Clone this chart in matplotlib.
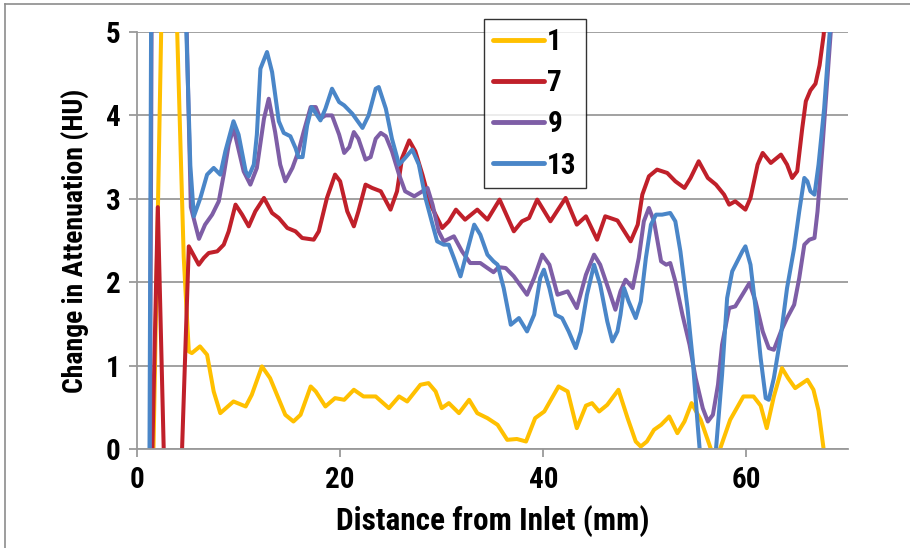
import matplotlib
matplotlib.use("Agg")
import matplotlib.pyplot as plt
from matplotlib import font_manager
from matplotlib.lines import Line2D

# ---------------- data ----------------
x1 = [1.5, 2.5, 3.6, 4.6, 5.1, 5.4, 6.2, 6.9, 7.55, 8.2,
      9.5, 10.7, 11.3, 12.3, 13.1, 14.6, 15.4, 16.1, 17.1, 17.6,
      18.55, 19.5, 20.4, 21.35, 22.3, 23.5, 24.8, 25.8, 26.6, 27.9,
      28.7, 29.4, 30.0, 30.7, 31.7, 32.7, 33.5, 34.5, 35.5, 36.45,
      37.4, 38.3, 39.2, 40.1, 41.5, 42.4, 43.3, 44.2, 44.8, 45.5,
      46.3, 47.4, 48.3, 49.1, 49.6, 50.2, 50.9, 51.6, 52.4, 53.2,
      53.9, 54.6, 55.5, 56.5, 57.0, 57.4, 58.4, 59.7, 60.7, 61.4,
      62.0, 62.7, 63.5, 64.1, 64.8, 66.0, 66.6, 67.1, 67.6, 67.8]
y1 = [-0.8, 5.8, 6.5, 2.3, 1.17, 1.15, 1.23, 1.13, 0.69, 0.43,
      0.57, 0.51, 0.65, 0.99, 0.85, 0.41, 0.33, 0.41, 0.75, 0.69,
      0.51, 0.61, 0.59, 0.71, 0.63, 0.63, 0.49, 0.63, 0.57, 0.77,
      0.79, 0.69, 0.49, 0.55, 0.43, 0.59, 0.43, 0.37, 0.29, 0.11,
      0.12, 0.09, 0.37, 0.45, 0.75, 0.69, 0.25, 0.52, 0.55, 0.45,
      0.53, 0.71, 0.37, 0.09, 0.03, 0.09, 0.23, 0.29, 0.39, 0.19,
      0.33, 0.55, 0.35, 0.0, -0.1, 0.0, 0.35, 0.63, 0.63, 0.52,
      0.25, 0.63, 0.97, 0.85, 0.73, 0.83, 0.71, 0.46, 0.0, -0.3]

x7 = [1.4, 2.05, 2.75, 3.5, 4.3, 5.1, 6.08, 6.57, 7.06, 7.9,
      8.54, 9.03, 9.7, 10.35, 11.0, 11.65, 12.5, 13.3, 13.96, 14.8,
      15.6, 16.26, 17.4, 17.9, 18.7, 19.5, 20.0, 20.7, 21.35, 21.8,
      22.5, 23.15, 24.0, 24.96, 25.6, 26.1, 26.8, 27.4, 28.1, 28.9,
      30.05, 30.7, 31.4, 32.3, 33.5, 34.5, 35.7, 37.1, 37.9, 38.6,
      39.4, 40.7, 42.2, 43.3, 44.2, 45.3, 46.1, 47.3, 48.6, 49.3,
      49.75, 50.4, 51.2, 52.2, 53.0, 53.9, 54.5, 55.3, 56.2, 57.0,
      57.8, 58.3, 58.9, 59.9, 60.4, 61.1, 61.6, 62.4, 63.4, 64.0,
      64.5, 65.0, 65.5, 65.85, 66.3, 66.8, 67.2, 67.6, 68.0]
y7 = [-0.6, 2.9, -0.6, -3.0, -0.5, 2.43, 2.21, 2.29, 2.35, 2.37,
      2.45, 2.61, 2.93, 2.81, 2.67, 2.85, 3.01, 2.83, 2.77, 2.65,
      2.61, 2.53, 2.51, 2.61, 3.01, 3.29, 3.21, 2.85, 2.67, 2.85,
      3.17, 3.13, 3.09, 2.87, 3.09, 3.49, 3.70, 3.57, 3.29, 2.93,
      2.65, 2.73, 2.87, 2.75, 2.87, 2.75, 2.99, 2.61, 2.73, 2.77,
      2.99, 2.73, 3.01, 2.69, 2.79, 2.51, 2.79, 2.74, 2.49, 2.69,
      3.05, 3.27, 3.35, 3.31, 3.21, 3.13, 3.25, 3.45, 3.25, 3.17,
      3.05, 2.93, 2.97, 2.87, 3.01, 3.41, 3.55, 3.43, 3.53, 3.41,
      3.25, 3.33, 3.85, 4.17, 4.30, 4.38, 4.60, 4.96, 5.6]

x9 = [1.25, 1.65, 4.55, 5.3, 6.1, 6.7, 7.4, 8.05, 8.54, 9.03,
      9.5, 10.5, 11.16, 11.8, 12.5, 12.97, 13.6, 14.1, 14.6, 15.3,
      15.9, 16.4, 17.1, 17.6, 18.06, 18.55, 19.2, 19.9, 20.4, 20.9,
      21.35, 21.8, 22.5, 23.0, 23.5, 24.0, 24.5, 25.1, 25.8, 26.4,
      27.3, 28.1, 28.6, 29.1, 29.7, 30.2, 31.2, 32.0, 32.8, 33.8,
      34.5, 35.1, 35.6, 36.3, 37.1, 38.4, 39.1, 39.9, 40.6, 41.4,
      42.4, 43.3, 44.2, 45.0, 45.6, 46.5, 47.1, 47.6, 48.1, 48.8,
      49.4, 49.9, 50.4, 50.9, 51.6, 52.1, 52.5, 53.0, 53.7, 54.4,
      55.0, 55.7, 56.2, 56.7, 57.2, 57.6, 58.3, 58.9, 59.6, 60.3,
      60.9, 61.6, 62.2, 62.7, 63.4, 64.0, 64.7, 65.2, 65.7, 66.2,
      66.7, 67.0, 67.5, 68.0, 68.3, 68.6]
y9 = [-1.0, 12.0, 6.8, 2.9, 2.52, 2.69, 2.81, 2.97, 3.29, 3.65,
      3.85, 3.33, 3.17, 3.37, 3.96, 4.20, 3.80, 3.41, 3.21, 3.37,
      3.57, 3.80, 4.10, 4.10, 3.96, 4.00, 4.00, 3.77, 3.55, 3.62,
      3.80, 3.72, 3.47, 3.50, 3.72, 3.79, 3.75, 3.57, 3.29, 3.09,
      3.03, 3.09, 3.13, 2.93, 2.61, 2.49, 2.55, 2.37, 2.23, 2.23,
      2.17, 2.12, 2.18, 2.17, 2.07, 1.85, 2.05, 2.33, 2.21, 1.85,
      1.89, 1.69, 2.09, 2.33, 2.21, 1.89, 1.67, 1.89, 2.03, 1.93,
      2.29, 2.73, 2.89, 2.73, 2.25, 2.21, 2.23, 2.01, 1.61, 1.25,
      0.85, 0.49, 0.33, 0.41, 0.77, 1.25, 1.69, 1.71, 1.85, 1.99,
      1.77, 1.41, 1.21, 1.19, 1.41, 1.57, 1.73, 2.05, 2.45, 2.51,
      2.53, 2.85, 3.65, 4.49, 5.0, 5.6]

x13 = [1.2, 1.6, 4.5, 5.25, 5.6, 6.24, 6.9, 7.55, 8.2, 8.7,
       9.5, 10.0, 10.7, 11.0, 11.5, 11.8, 12.15, 12.8, 13.3, 13.96,
       14.45, 15.1, 15.6, 15.9, 16.3, 16.75, 17.2, 18.06, 18.55, 19.2,
       19.9, 20.4, 21.2, 22.2, 22.8, 23.5, 23.8, 24.5, 25.1, 25.8,
       26.4, 27.1, 27.75, 28.4, 29.1, 29.55, 30.2, 30.7, 31.2, 31.85,
       32.5, 33.2, 33.8, 34.5, 35.1, 35.5, 36.1, 36.8, 37.6, 38.4,
       39.1, 39.7, 40.06, 40.6, 41.2, 41.85, 42.5, 43.2, 43.7, 44.3,
       45.0, 45.6, 46.3, 46.8, 47.3, 47.6, 47.95, 48.4, 49.1, 49.6,
       50.1, 50.6, 51.1, 51.7, 52.5, 53.0, 53.5, 54.2, 54.7, 55.2,
       56.2, 57.6, 58.1, 58.6, 59.1, 59.6, 59.9, 60.4, 60.9, 61.4,
       61.9, 62.2, 62.7, 63.4, 64.0, 64.7, 65.2, 65.7, 66.0, 66.3,
       66.7, 67.1, 67.65, 68.1, 68.6]
y13 = [-1.0, 12.0, 6.5, 3.4, 2.79, 3.01, 3.29, 3.37, 3.29, 3.57,
       3.93, 3.77, 3.33, 3.27, 3.41, 3.77, 4.56, 4.76, 4.52, 3.93,
       3.79, 3.75, 3.61, 3.50, 3.50, 3.88, 4.10, 3.94, 4.08, 4.32,
       4.16, 4.12, 4.02, 3.85, 4.00, 4.32, 4.34, 4.08, 3.72, 3.41,
       3.49, 3.59, 3.41, 3.01, 2.69, 2.49, 2.45, 2.45, 2.29, 2.07,
       2.37, 2.69, 2.57, 2.33, 2.25, 2.21, 1.93, 1.49, 1.57, 1.41,
       1.61, 2.05, 2.15, 1.93, 1.61, 1.57, 1.41, 1.21, 1.41, 1.85,
       2.21, 1.97, 1.53, 1.29, 1.41, 1.61, 1.93, 1.77, 1.57, 1.77,
       2.29, 2.69, 2.81, 2.81, 2.83, 2.73, 2.37, 1.69, 1.09, 0.29,
       -1.2, 0.89, 1.81, 2.13, 2.25, 2.37, 2.43, 2.21, 1.69, 1.09,
       0.61, 0.59, 0.85, 1.37, 1.93, 2.41, 2.85, 3.25, 3.21, 3.09,
       3.05, 3.41, 4.08, 4.84, 5.6]

series_labels = ["1", "7", "9", "13"]
series_colors = ["#FFC000", "#C0202A", "#7E5EA6", "#4A86C8"]
x_ticks = [0, 20, 40, 60]
y_ticks = [0, 1, 2, 3, 4, 5]
x_title = "Distance from Inlet (mm)"
y_title = "Change in Attenuation (HU)"

# ---------------- font ----------------
def pick(fams):
    for f in fams:
        try:
            font_manager.findfont(font_manager.FontProperties(family=f),
                                  fallback_to_default=False)
            return f
        except Exception:
            pass
    return "DejaVu Sans"

fam = pick(["Liberation Sans Narrow", "Roboto Condensed", "Open Sans", "Liberation Sans"])
plt.rcParams["font.family"] = [fam, "DejaVu Sans"]

fig = plt.figure(figsize=(9.10, 5.48), dpi=100)
ax = fig.add_axes([137/910, 1-449/548, (848-137)/910, (449-32)/548])

xs = [x1, x7, x9, x13]
ys = [y1, y7, y9, y13]
for xx, yy, c, lab in zip(xs, ys, series_colors, series_labels):
    ax.plot(xx, yy, color=c, lw=2.9, label=lab, solid_joinstyle="round",
            solid_capstyle="round")

ax.set_xlim(0, 70)
ax.set_ylim(0, 5)
ax.set_xticks(x_ticks)
ax.set_yticks(y_ticks)
ax.yaxis.grid(True, color="#9a9a9a", lw=1.3)
ax.set_axisbelow(True)
for s in ["top", "right"]:
    ax.spines[s].set_visible(False)
for s in ["left", "bottom"]:
    ax.spines[s].set_color("#9a9a9a")
    ax.spines[s].set_linewidth(1.3)
ax.tick_params(axis="both", direction="out", length=6, width=1.3, color="#9a9a9a",
               labelsize=21, pad=6)
for t in ax.get_xticklabels() + ax.get_yticklabels():
    t.set_fontweight("bold")
ax.set_xlabel(x_title, fontsize=22.5, fontweight="bold", labelpad=8)
ax.set_ylabel(y_title, fontsize=20, fontweight="bold", labelpad=12)

leg = ax.legend(loc="upper left", bbox_to_anchor=(0.488, 1.03), frameon=True,
                fancybox=False, edgecolor="black", fontsize=21,
                handlelength=1.75, handletextpad=0.12, labelspacing=0.45,
                borderpad=0.3, borderaxespad=0)
leg.get_frame().set_linewidth(1.0)
for t in leg.get_texts():
    t.set_fontweight("bold")
for h in leg.get_lines():
    h.set_linewidth(3.5)

# outer chart border
fig.add_artist(Line2D([5/910, 5/910], [0, 1-4/548], color="#8c8c8c", lw=1.2,
                      transform=fig.transFigure))
fig.add_artist(Line2D([5/910, 1], [1-4/548, 1-4/548], color="#8c8c8c", lw=1.2,
                      transform=fig.transFigure))

fig.savefig("out.png", dpi=100)
